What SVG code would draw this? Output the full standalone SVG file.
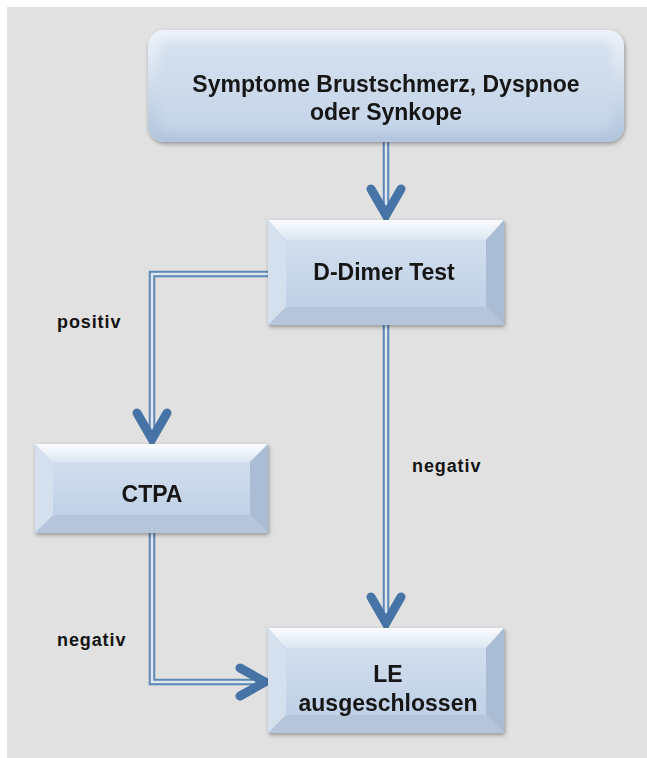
<svg xmlns="http://www.w3.org/2000/svg" width="647" height="758" viewBox="0 0 647 758">
  <defs>
    <style>
      .lbl { font-family: "Liberation Sans", Arial, sans-serif; font-weight: bold; fill: #141414; }
      .node-text { font-size: 23px; text-anchor: middle; }
      .edge-text { font-size: 18px; letter-spacing: 0.9px; }
      .rail-out { fill: none; stroke: #5e86b2; stroke-width: 6.5; }
      .rail-in { fill: none; stroke: #dde7f2; stroke-width: 2.5; }
      .head { fill: none; stroke: #4674a6; stroke-width: 9; stroke-linecap: round; stroke-linejoin: miter; }
      .face { fill: url(#faceGrad); }
      .bev-top { fill: url(#topBev); }
      .bev-left { fill: #d4e0ee; }
      .bev-right { fill: #abbdd5; }
      .bev-bottom { fill: #b5c6db; }
    </style>
    <linearGradient id="faceGrad" x1="0" y1="0" x2="0" y2="1">
      <stop offset="0" stop-color="#d1deee"/>
      <stop offset="1" stop-color="#c0d1e6"/>
    </linearGradient>
    <linearGradient id="topBev" x1="0" y1="0" x2="0" y2="1">
      <stop offset="0" stop-color="#fbfdff"/>
      <stop offset="1" stop-color="#dbe6f2"/>
    </linearGradient>
    <linearGradient id="roundGrad" x1="0" y1="0" x2="0" y2="1">
      <stop offset="0" stop-color="#eef3fa"/>
      <stop offset="1" stop-color="#b2c5dd"/>
    </linearGradient>
    <linearGradient id="roundInner" x1="0" y1="0" x2="0" y2="1">
      <stop offset="0" stop-color="#d5e1ef"/>
      <stop offset="1" stop-color="#c5d5e8"/>
    </linearGradient>
    <filter id="soft" x="-10%" y="-20%" width="120%" height="140%">
      <feGaussianBlur stdDeviation="4"/>
    </filter>
    <filter id="shadow" x="-10%" y="-10%" width="120%" height="130%">
      <feGaussianBlur in="SourceAlpha" stdDeviation="2"/>
      <feOffset dx="1" dy="2"/>
      <feComponentTransfer><feFuncA type="linear" slope="0.35"/></feComponentTransfer>
      <feMerge><feMergeNode/><feMergeNode in="SourceGraphic"/></feMerge>
    </filter>
  </defs>

  <!-- page background -->
  <rect x="0" y="0" width="647" height="758" fill="#ffffff"/>
  <rect x="7" y="7" width="640" height="751" fill="#e1e1e1"/>

  <!-- connectors: double rails ending in open chevrons -->
  <g id="connectors">
    <path class="rail-out" d="M386,142 V212"/>
    <path class="rail-in" d="M386,142 V212"/>
    <polyline class="head" points="371,189 386,215 401,189"/>

    <path class="rail-out" d="M268,274 H152 V436"/>
    <path class="rail-in" d="M268,274 H152 V436"/>
    <polyline class="head" points="137,413 152,439 167,413"/>

    <path class="rail-out" d="M386,325 V620"/>
    <path class="rail-in" d="M386,325 V620"/>
    <polyline class="head" points="371,597 386,623 401,597"/>

    <path class="rail-out" d="M152,533 V682 H262"/>
    <path class="rail-in" d="M152,533 V682 H262"/>
    <polyline class="head" points="240,668 265,682 240,696"/>
  </g>

  <!-- rounded start node -->
  <g id="node-symptome" filter="url(#shadow)">
    <rect x="148" y="30" width="476" height="112" rx="16" fill="url(#roundGrad)"/>
    <rect x="160" y="40" width="452" height="90" rx="10" fill="url(#roundInner)" filter="url(#soft)"/>
    <text class="lbl node-text" x="386" y="92">Symptome Brustschmerz, Dyspnoe</text>
    <text class="lbl node-text" x="386" y="120">oder Synkope</text>
  </g>

  <!-- bevelled nodes -->
  <g id="node-ddimer" filter="url(#shadow)">
    <rect class="face" x="268" y="220" width="236" height="105"/>
    <polygon class="bev-top" points="268,220 504,220 486,240 286,240"/>
    <polygon class="bev-left" points="268,220 286,240 286,307 268,325"/>
    <polygon class="bev-right" points="504,220 504,325 486,307 486,240"/>
    <polygon class="bev-bottom" points="268,325 504,325 486,307 286,307"/>
    <rect class="face" x="286" y="240" width="200" height="67"/>
    <text class="lbl node-text" x="384" y="280">D-Dimer Test</text>
  </g>

  <g id="node-ctpa" filter="url(#shadow)">
    <rect class="face" x="35" y="444" width="233" height="89"/>
    <polygon class="bev-top" points="35,444 268,444 250,462 53,462"/>
    <polygon class="bev-left" points="35,444 53,462 53,515 35,533"/>
    <polygon class="bev-right" points="268,444 268,533 250,515 250,462"/>
    <polygon class="bev-bottom" points="35,533 268,533 250,515 53,515"/>
    <rect class="face" x="53" y="462" width="197" height="53"/>
    <text class="lbl node-text" x="152" y="502">CTPA</text>
  </g>

  <g id="node-le" filter="url(#shadow)">
    <rect class="face" x="268" y="628" width="236" height="105"/>
    <polygon class="bev-top" points="268,628 504,628 486,648 286,648"/>
    <polygon class="bev-left" points="268,628 286,648 286,715 268,733"/>
    <polygon class="bev-right" points="504,628 504,733 486,715 486,648"/>
    <polygon class="bev-bottom" points="268,733 504,733 486,715 286,715"/>
    <rect class="face" x="286" y="648" width="200" height="67"/>
    <text class="lbl node-text" x="388" y="682">LE</text>
    <text class="lbl node-text" x="388" y="711">ausgeschlossen</text>
  </g>

  <!-- edge labels -->
  <g id="edge-labels">
    <text class="lbl edge-text" x="57" y="328">positiv</text>
    <text class="lbl edge-text" x="412" y="472">negativ</text>
    <text class="lbl edge-text" x="57" y="646">negativ</text>
  </g>
</svg>
